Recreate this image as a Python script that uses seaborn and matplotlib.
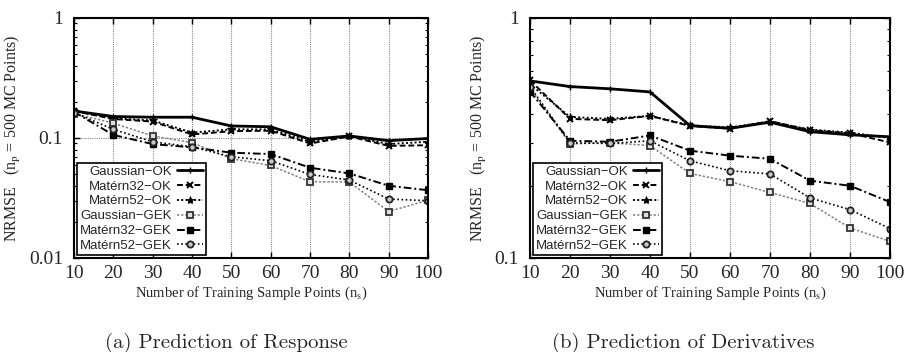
import matplotlib
matplotlib.use("Agg")
import matplotlib.pyplot as plt
import matplotlib.ticker as mticker
import numpy as np
import pandas as pd
import seaborn as sns

sns.set_theme(style="ticks")
plt.rcParams['font.family'] = ['Liberation Serif', 'DejaVu Serif']
plt.rcParams['mathtext.fontset'] = 'stix'

n_s = [10, 20, 30, 40, 50, 60, 70, 80, 90, 100]
series_names = ["Gaussian\u2212OK", "Matérn32\u2212OK", "Matérn52\u2212OK",
                "Gaussian\u2212GEK", "Matérn32\u2212GEK", "Matérn52\u2212GEK"]

# (a) Prediction of Response
resp_gauss_ok = [0.168, 0.151, 0.149, 0.149, 0.126, 0.124, 0.0975, 0.104, 0.095, 0.099]
resp_mat32_ok = [0.168, 0.144, 0.137, 0.107, 0.114, 0.115, 0.090, 0.103, 0.086, 0.087]
resp_mat52_ok = [0.168, 0.146, 0.140, 0.111, 0.118, 0.118, 0.093, 0.104, 0.089, 0.093]
resp_gauss_gek = [0.160, 0.133, 0.104, 0.0915, 0.0672, 0.059, 0.0432, 0.043, 0.0244, 0.0303]
resp_mat32_gek = [0.165, 0.106, 0.089, 0.0836, 0.0754, 0.0735, 0.0565, 0.0507, 0.040, 0.0367]
resp_mat52_gek = [0.163, 0.118, 0.093, 0.0845, 0.0697, 0.0647, 0.0497, 0.0446, 0.031, 0.030]

# (b) Prediction of Derivatives
deriv_gauss_ok = [0.547, 0.518, 0.507, 0.492, 0.356, 0.347, 0.368, 0.336, 0.326, 0.320]
deriv_mat32_ok = [0.550, 0.380, 0.375, 0.391, 0.355, 0.346, 0.372, 0.341, 0.331, 0.303]
deriv_mat52_ok = [0.530, 0.387, 0.380, 0.391, 0.357, 0.350, 0.370, 0.343, 0.333, 0.316]
deriv_gauss_gek = [0.510, 0.299, 0.302, 0.294, 0.225, 0.208, 0.1875, 0.1687, 0.1334, 0.1174]
deriv_mat32_gek = [0.494, 0.308, 0.305, 0.324, 0.280, 0.267, 0.259, 0.210, 0.200, 0.171]
deriv_mat52_gek = [0.518, 0.302, 0.300, 0.308, 0.254, 0.231, 0.224, 0.178, 0.159, 0.1326]

resp = [resp_gauss_ok, resp_mat32_ok, resp_mat52_ok, resp_gauss_gek, resp_mat32_gek, resp_mat52_gek]
deriv = [deriv_gauss_ok, deriv_mat32_ok, deriv_mat52_ok, deriv_gauss_gek, deriv_mat32_gek, deriv_mat52_gek]

styles = [
    dict(color="black", linestyle="-", linewidth=2.0, marker="+", markersize=5, markeredgewidth=1.0,
         markerfacecolor="black", markeredgecolor="black"),
    dict(color="black", linestyle=(0, (3, 1.5)), linewidth=1.4, marker="x", markersize=4, markeredgewidth=1.4,
         markerfacecolor="black", markeredgecolor="black"),
    dict(color="black", linestyle=(0, (1, 1.2)), linewidth=1.4, marker="*", markersize=6, markeredgewidth=0.6,
         markerfacecolor="black", markeredgecolor="black"),
    dict(color="#808080", linestyle=(0, (1.5, 1.2)), linewidth=1.1, marker="s", markersize=4.2, markeredgewidth=1.3,
         markerfacecolor="#e0e0e0", markeredgecolor="#333333"),
    dict(color="black", linestyle=(0, (4, 1.5, 1, 1.5)), linewidth=1.4, marker="s", markersize=4.5, markeredgewidth=1.0,
         markerfacecolor="black", markeredgecolor="black"),
    dict(color="black", linestyle=(0, (1, 1.5)), linewidth=1.2, marker="o", markersize=4.5, markeredgewidth=1.3,
         markerfacecolor="#c8c8c8", markeredgecolor="#222222"),
]

fig = plt.figure(figsize=(9.09, 3.52), dpi=100)
ax1 = fig.add_axes([74/909, 1-258/352, 354/909, 240/352])
ax2 = fig.add_axes([530/909, 1-258/352, 360/909, 240/352])


def fmt(v, pos):
    if v >= 1:
        return "1"
    return ("%g" % v)


for ax, data, ylim in [(ax1, resp, (0.01, 1)), (ax2, deriv, (0.1, 1))]:
    for name, vals, st in zip(series_names, data, styles):
        df = pd.DataFrame({"n_s": n_s, "NRMSE": vals})
        sns.lineplot(data=df, x="n_s", y="NRMSE", ax=ax, label=name, **st)
    ax.set_yscale("log")
    ax.set_ylim(*ylim)
    ax.set_xlim(10, 100)
    ax.set_xticks(n_s)
    ax.yaxis.set_major_locator(mticker.LogLocator(base=10, numticks=10))
    ax.yaxis.set_minor_locator(mticker.LogLocator(base=10, subs=np.arange(2, 10), numticks=20))
    ax.yaxis.set_major_formatter(mticker.FuncFormatter(fmt))
    ax.yaxis.set_minor_formatter(mticker.NullFormatter())
    ax.tick_params(axis="both", which="major", direction="in", top=True, right=True,
                   length=4, width=1, labelsize=14, color="black")
    ax.tick_params(axis="x", which="major", pad=5)
    ax.tick_params(axis="y", which="major", pad=8)
    ax.tick_params(axis="y", which="minor", direction="in", left=True, right=True,
                   length=2.5, width=0.8, color="black")
    ax.grid(True, which="major", axis="both", color="#888888", linestyle=(0, (1, 1)), linewidth=0.8)
    for sp in ax.spines.values():
        sp.set_linewidth(1.5)
        sp.set_color("black")
    ax.set_facecolor("white")
    ax.set_xlabel(r"Number of Training Sample Points (n$_\mathrm{s}$)", fontsize=10.5, labelpad=2)
    ax.set_ylabel(r"NRMSE   (n$_\mathrm{p}$ = 500 MC Points)", fontsize=11.5, labelpad=4)
    leg = ax.legend(loc="lower left", markerfirst=False, frameon=True, fancybox=False,
                    prop={"family": "Liberation Sans", "size": 9.5}, handlelength=2.0,
                    handletextpad=0.4, labelspacing=0.2, borderpad=0.2, borderaxespad=0.25)
    leg.get_frame().set_edgecolor("black")
    leg.get_frame().set_linewidth(1.2)
    leg.get_frame().set_alpha(1)

fig.text(226/909, 1-343/352, "(a) Prediction of Response", ha="center", va="center",
         fontsize=15, family="cmr10")
fig.text(683/909, 1-343/352, "(b) Prediction of Derivatives", ha="center", va="center",
         fontsize=15, family="cmr10")

fig.savefig("out.png", dpi=100, facecolor="white")
